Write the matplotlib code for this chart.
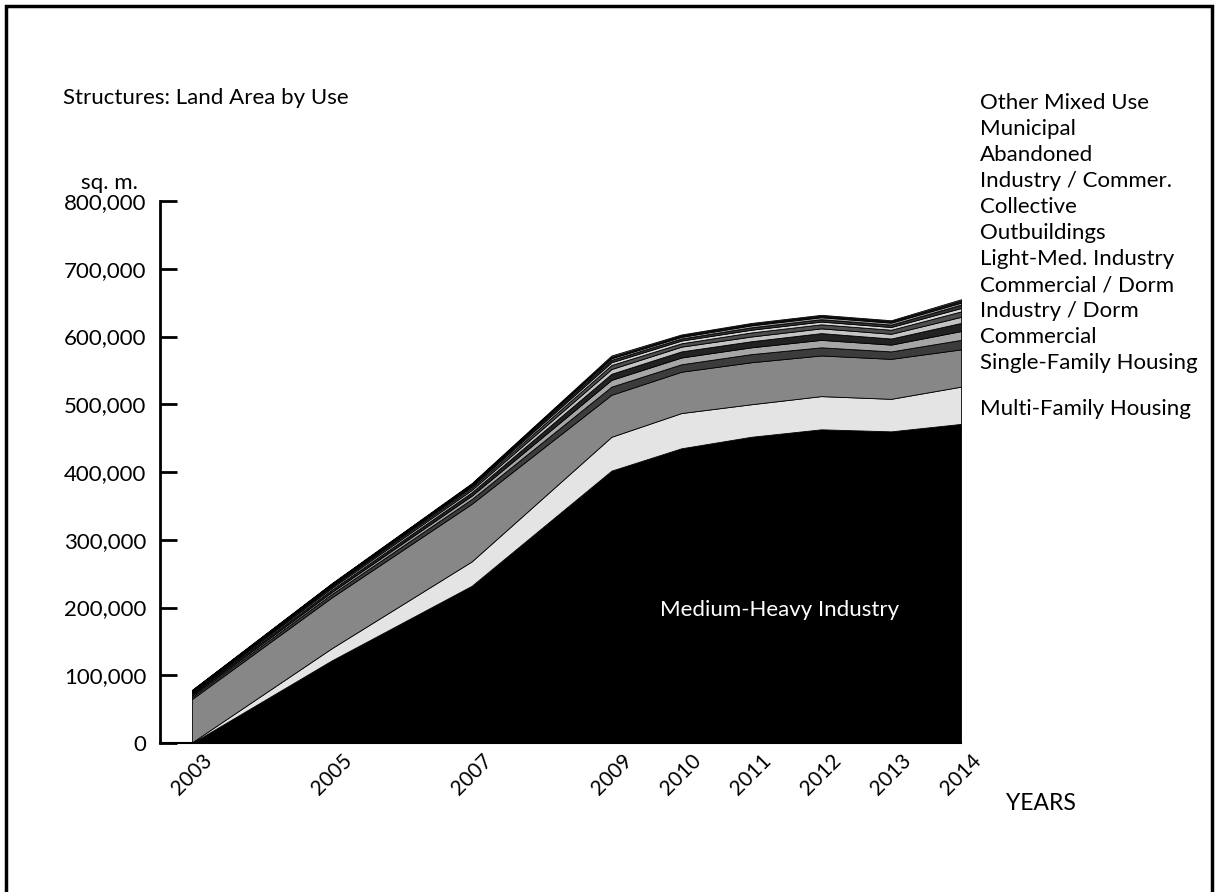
import numpy as np
import matplotlib
matplotlib.use("Agg")
import matplotlib.pyplot as plt
from matplotlib.patches import Rectangle
from matplotlib.ticker import FuncFormatter

plt.rcParams['font.family'] = ['Lato', 'DejaVu Sans']

years = [2003, 2005, 2007, 2009, 2010, 2011, 2012, 2013, 2014]

# layers, bottom to top (sq. m.)
medium_heavy   = [0, 122000, 232000, 402000, 435000, 452000, 463000, 460000, 471000]
multi_family   = [1000, 18000, 36000, 50000, 52000, 48000, 49000, 48000, 55000]
single_family  = [64000, 75000, 85000, 62000, 61000, 62000, 60000, 59000, 55000]
commercial     = [3000, 5000, 7000, 12000, 11000, 12000, 12000, 11000, 14000]
industry_dorm  = [2000, 3000, 5000, 10000, 10000, 10000, 11000, 10000, 13000]
commer_dorm    = [2000, 3500, 5000, 9000, 9000, 9000, 10000, 9000, 12000]
light_med      = [1500, 2500, 3500, 7000, 7000, 7000, 7000, 7000, 9000]
outbuildings   = [1500, 2000, 3000, 6000, 5000, 6000, 6000, 6000, 8000]
collective     = [1000, 1500, 2000, 4000, 4000, 4000, 4000, 4000, 5000]
industry_comm  = [1000, 1000, 1500, 3500, 3000, 3500, 3500, 3500, 5000]
abandoned      = [500, 1000, 1500, 2500, 2500, 3000, 3000, 3000, 3000]
municipal      = [500, 800, 1000, 2000, 2000, 2000, 2000, 2000, 3000]
other_mixed    = [500, 700, 1000, 2000, 1500, 1500, 1500, 1500, 2000]

layers = [medium_heavy, multi_family, single_family, commercial, industry_dorm,
          commer_dorm, light_med, outbuildings, collective, industry_comm,
          abandoned, municipal, other_mixed]
colors = ['#000000', '#e4e4e4', '#878787', '#3c3c3c', '#a6a6a6', '#222222',
          '#c4c4c4', '#4e4e4e', '#d8d8d8', '#333333', '#9a9a9a', '#1c1c1c', '#6a6a6a']

# legend text, top to bottom
labels = ['Other Mixed Use', 'Municipal', 'Abandoned', 'Industry / Commer.',
          'Collective', 'Outbuildings', 'Light-Med. Industry', 'Commercial / Dorm',
          'Industry / Dorm', 'Commercial', 'Single-Family Housing']
yticks = [0, 100000, 200000, 300000, 400000, 500000, 600000, 700000, 800000]

W, H = 1215, 892
fig = plt.figure(figsize=(W / 100, H / 100), dpi=100)
ax = fig.add_axes([160 / W, 1 - 743 / H, (961 - 160) / W, (743 - 201) / H])

ax.stackplot(years, *layers, colors=colors, edgecolor='black', linewidth=0.6)

ax.set_xlim(2003 - 32 / 69.9, 2014)
ax.set_ylim(0, 800000)
ax.set_yticks(yticks)
ax.yaxis.set_major_formatter(FuncFormatter(lambda v, p: f"{int(v):,}"))
ax.set_xticks(years)
ax.set_xticklabels([str(y) for y in years], rotation=45, fontsize=15)
ax.tick_params(axis='x', length=0, pad=5)
ax.tick_params(axis='y', direction='in', length=12, width=2, pad=10, labelsize=16)

for s in ['top', 'right']:
    ax.spines[s].set_visible(False)
ax.spines['left'].set_linewidth(2)
ax.spines['bottom'].set_linewidth(1.5)

ax.text(2011.4, 196000, 'Medium-Heavy Industry', color='white', fontsize=16,
        ha='center', va='center')

for i, lab in enumerate(labels):
    fig.text(980 / W, 1 - (103 + 26 * i) / H, lab, fontsize=16, ha='left', va='center')
fig.text(980 / W, 1 - 409 / H, 'Multi-Family Housing', fontsize=16, ha='left', va='center')

fig.text(63 / W, 1 - 98 / H, 'Structures: Land Area by Use', fontsize=16, ha='left', va='center')
fig.text(138 / W, 1 - 183 / H, 'sq. m.', fontsize=16, ha='right', va='center')
fig.text(1006 / W, 1 - 803 / H, 'YEARS', fontsize=16.5, ha='left', va='center')

fig.patches.append(Rectangle((6 / W, -0.02), (1212 - 6) / W, 1.02 - 6 / H,
                             transform=fig.transFigure, fill=False,
                             edgecolor='black', linewidth=2.5))

fig.savefig('out.png', dpi=100)
